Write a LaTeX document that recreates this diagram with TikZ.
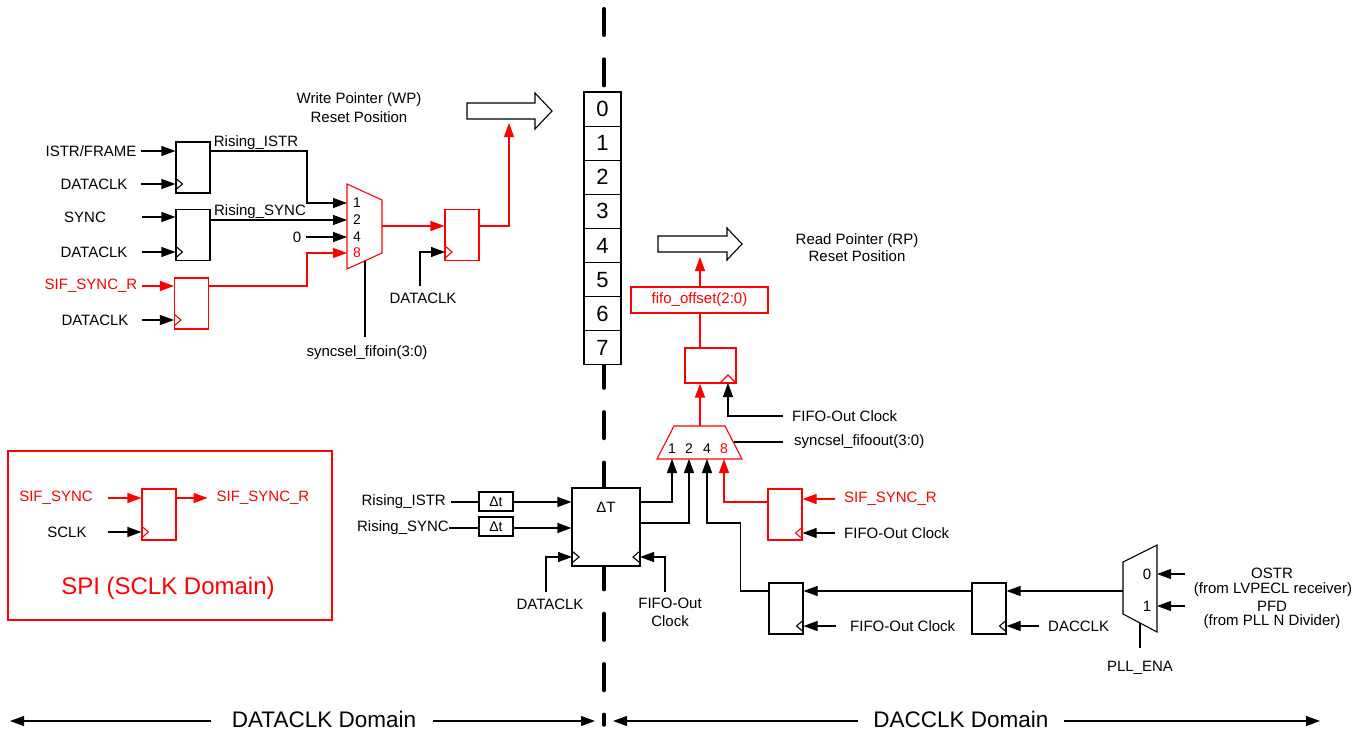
\documentclass[tikz,border=0pt]{standalone}
\usepackage{fontspec}
\setmainfont{Liberation Sans}
\usetikzlibrary{arrows.meta, positioning, calc}

\begin{document}
\begin{tikzpicture}[x=1pt, y=-1pt,
    every node/.style={font=\fontsize{15}{19}\selectfont, inner sep=0pt},
    wire/.style={line width=1.1pt},
    sig/.style={wire, -{Triangle[length=14pt,width=10pt]}},
    ffbox/.style={draw, line width=1.1pt, fill=white, minimum width=34pt, minimum height=51pt},
    dtbox/.style={draw, line width=1.1pt, fill=white, minimum width=34pt, minimum height=19pt, font=\fontsize{14}{16}\selectfont},
    cell/.style={draw, line width=1.1pt, fill=white, minimum width=37pt, minimum height=34.1pt, font=\fontsize{22}{24}\selectfont},
    pin/.style={font=\fontsize{14}{16}\selectfont},
    domaintext/.style={font=\fontsize{22.5}{26}\selectfont},
    hollow/.style={draw, line width=1.1pt, fill=white},
    clkleft/.pic={\draw[line width=1.1pt] (0,-6) -- (7,0) -- (0,6);},
    clkright/.pic={\draw[line width=1.1pt] (0,-6) -- (-7,0) -- (0,6);},
    clkup/.pic={\draw[line width=1.1pt] (-8,0) -- (0,-8) -- (8,0);}]

    \useasboundingbox (0,0) rectangle (1366,731);

    % border between the two clock domains
    \draw[line width=3.5pt, line cap=round, dash pattern=on 26.5pt off 23.9pt] (604,8.75) -- (604,725);

    % FIFO cells 0..7
    \foreach \i in {0,...,7}
        \node[cell] (c\i) at (602.5,{109.05+34.1*\i}) {\i};

    % write pointer arrow
    \draw[hollow] (467,103) -- (535,103) -- (535,93) -- (552,111) -- (535,129) -- (535,119) -- (467,119) -- cycle;
    \coordinate (wp-in) at (509,123);
    \node[align=center] (wptext) at (359,108) {Write Pointer (WP)\\Reset Position};

    % inputs, DATACLK side
    \node (istr) at (91,151) {ISTR/FRAME};
    \node (dclk1) at (94,184) {DATACLK};
    \node (sync) at (85,217) {SYNC};
    \node (dclk2) at (94,252) {DATACLK};
    \node[text=red] (sifr) at (91,286) {SIF\_SYNC\_R};
    \node (dclk3) at (95,320) {DATACLK};

    % input flip-flops
    \node[ffbox] (ff1) at (193,167.5) {};
    \node[ffbox] (ff2) at (193,235) {};
    \node[ffbox, draw=red] (ff3) at (191.5,303.5) {};
    \pic at (ff1.west |- dclk1) {clkleft};
    \pic at (ff2.west |- dclk2) {clkleft};
    \pic[red] at (ff3.west |- dclk3) {clkleft};
    \draw[sig] ($(ff1.west |- istr)-(34,0)$) -- (ff1.west |- istr);
    \draw[sig] ($(ff1.west |- dclk1)-(34,0)$) -- (ff1.west |- dclk1);
    \draw[sig] ($(ff2.west |- sync)-(33,0)$) -- (ff2.west |- sync);
    \draw[sig] ($(ff2.west |- dclk2)-(33,0)$) -- (ff2.west |- dclk2);
    \draw[sig, red] ($(ff3.west |- sifr)-(32,0)$) -- (ff3.west |- sifr);
    \draw[sig] ($(ff3.west |- dclk3)-(32,0)$) -- (ff3.west |- dclk3);

    % sync select mux (fifo in)
    \draw[wire, red, fill=white] (347,184) -- (382,200) -- (382,253) -- (347,269) -- cycle;
    \coordinate (m1a) at (347,203);
    \coordinate (m1b) at (347,220);
    \coordinate (m1c) at (347,237);
    \coordinate (m1d) at (347,253);
    \coordinate (m1out) at (382,226);
    \coordinate (m1sel) at (365,261);
    \node[pin] (m1l1) at (357,203) {1};
    \node[pin] (m1l2) at (357,220) {2};
    \node[pin] (m1l4) at (357,237) {4};
    \node[pin, text=red] (m1l8) at (357,253) {8};

    \draw[sig] (ff1.east |- istr) -| ($(m1a)-(40,0)$) -- (m1a);
    \node (risi) at (256,143) {Rising\_ISTR};
    \draw[sig] (ff2.east |- m1b) -- (m1b);
    \node (riss) at (260,212) {Rising\_SYNC};
    \node (zero) at (297,237) {0};
    \draw[sig] (zero.east) ++(5,0) -- (m1c);
    \draw[sig, red] (ff3.east |- sifr) -| ($(m1d)-(40,0)$) -- (m1d);
    \node (selin) at (367,353) {syncsel\_fifoin(3:0)};
    \draw[wire] (m1sel) -- ($(m1sel)+(0,76)$);

    % write pointer flip-flop
    \node[ffbox, draw=red] (ffwp) at (462,235) {};
    \coordinate (ffwp-ck) at (445,252);
    \pic[red] at (ffwp-ck) {clkleft};
    \draw[sig, red] (m1out) -- (ffwp.west |- m1out);
    \node (dclkw) at (423,298) {DATACLK};
    \draw[sig] ($(ffwp-ck)+(-25,34)$) |- (ffwp-ck);
    \draw[sig, red] (ffwp.east |- m1out) -| (wp-in);

    % SPI block
    \node[draw=red, line width=1.1pt, minimum width=324pt, minimum height=169pt] (spi) at (170,535.5) {};
    \node[ffbox, draw=red] (ffspi) at (159,514.5) {};
    \node[text=red] (sifs) at (56,498) {SIF\_SYNC};
    \node (sclk) at (67,532) {SCLK};
    \node[text=red] (sifo) at (263,498) {SIF\_SYNC\_R};
    \draw[sig, red] ($(ffspi.west |- sifs)-(33,0)$) -- (ffspi.west |- sifs);
    \draw[sig] ($(ffspi.west |- sclk)-(33,0)$) -- (ffspi.west |- sclk);
    \pic[red] at (ffspi.west |- sclk) {clkleft};
    \draw[sig, red] (ffspi.east |- sifs) -- ($(sifo.west)-(9,0)$);
    \node[text=red, font=\fontsize{24}{28}\selectfont] (spitext) at (168,588) {SPI (SCLK Domain)};

    % delta T crossing block
    \node[anchor=east] (risi2) at (446,502) {Rising\_ISTR};
    \node[anchor=east] (riss2) at (449,528) {Rising\_SYNC};
    \node[dtbox] (dt1) at (496,501.5) {Δt};
    \node[dtbox] (dt2) at (496,526.5) {Δt};
    \draw[wire] (risi2.east) ++(5,0) -- (dt1.west |- risi2);
    \draw[wire] (riss2.east) -- (dt2.west |- riss2);
    \node[ffbox, minimum width=68pt, minimum height=78pt] (dtT) at (606,527) {};
    \node (dtlabel) at (606,507) {ΔT};
    \draw[sig] (dt1.east |- risi2) -- (dtT.west |- risi2);
    \draw[sig] (dt2.east |- riss2) -- (dtT.west |- riss2);
    \coordinate (dt-ckl) at (572,557);
    \coordinate (dt-ckr) at (640,557);
    \pic at (dt-ckl) {clkleft};
    \pic at (dt-ckr) {clkright};
    \node (dclkd) at (550,604) {DATACLK};
    \draw[sig] ($(dt-ckl)+(-26,35)$) |- (dt-ckl);
    \node[align=center, font=\fontsize{15}{18}\selectfont] (foc1) at (670,612) {FIFO-Out\\Clock};
    \draw[sig] ($(dt-ckr)+(25,35)$) |- (dt-ckr);

    % sync select mux (fifo out)
    \draw[wire, red, fill=white] (657,459) -- (674,426) -- (725,426) -- (742,459) -- cycle;
    \coordinate (m2a) at (672,459);
    \coordinate (m2b) at (689,459);
    \coordinate (m2c) at (707,459);
    \coordinate (m2d) at (724,459);
    \coordinate (m2out) at (700,426);
    \coordinate (m2sel) at (733.5,442);
    \node[pin] (m2l1) at (672,449) {1};
    \node[pin] (m2l2) at (689,449) {2};
    \node[pin] (m2l4) at (707,449) {4};
    \node[pin, text=red] (m2l8) at (724,449) {8};
    \draw[sig] (dtT.east |- 0,502) -| (m2a);
    \draw[sig] (dtT.east |- 0,523) -| (m2b);
    \node[anchor=west] (selout) at (794,442) {syncsel\_fifoout(3:0)};
    \draw[wire] (m2sel) -- ($(selout.west)-(11,0)$);

    % read pointer path
    \node[ffbox, draw=red, minimum width=51pt, minimum height=35pt] (ffrp) at (710.5,365.5) {};
    \coordinate (ffrp-ck) at (728,383);
    \pic[red] at (ffrp-ck) {clkup};
    \node[draw=red, line width=1.1pt, fill=white, minimum width=137pt, minimum height=26pt, text=red] (fo) at (699.5,300) {fifo\_offset(2:0)};
    \draw[hollow] (658,236) -- (727,236) -- (727,228) -- (742,244) -- (727,260) -- (727,252) -- (658,252) -- cycle;
    \coordinate (rp-in) at (700,257);
    \node[align=center, font=\fontsize{15}{17}\selectfont] (rptext) at (857,248) {Read Pointer (RP)\\Reset Position};
    \draw[sig, red] (m2out) -- (ffrp.south -| m2out);
    \draw[wire, red] (ffrp.north -| m2out) -- (fo.south -| m2out);
    \draw[sig, red] (fo.north -| m2out) -- (rp-in);
    \node[anchor=west] (focr) at (792,416) {FIFO-Out Clock};
    \draw[sig] ($(focr.west)-(9,0)$) -| (ffrp-ck);

    % SIF_SYNC_R flip-flop, DACCLK side
    \node[ffbox, draw=red] (ff4) at (785,514.5) {};
    \node[text=red, anchor=west] (sifr2) at (844,499) {SIF\_SYNC\_R};
    \node[anchor=west] (foc2) at (844,533) {FIFO-Out Clock};
    \draw[sig, red] ($(sifr2.west)-(9,0)$) -- (ff4.east |- sifr2);
    \draw[sig] ($(foc2.west)-(9,0)$) -- (ff4.east |- foc2);
    \pic[red] at (ff4.east |- foc2) {clkright};
    \draw[sig, red] (ff4.west |- 0,502) -| (m2d);

    % OSTR / PFD synchronizer
    \node[ffbox] (ff5) at (786,608.5) {};
    \node[ffbox] (ff6) at (989,608.5) {};
    \coordinate (pllout) at (1123,591);
    \draw[sig] (pllout) -- (ff6.east |- pllout);
    \draw[sig] (ff6.west |- pllout) -- (ff5.east |- pllout);
    \draw[sig] (ff5.west |- pllout) -- ($(ff5.west |- pllout)-(28,0)$) |- ($(m2c)+(0,64)$) -- (m2c);
    \node[anchor=west] (foc3) at (850,626) {FIFO-Out Clock};
    \node[anchor=west] (dacclk) at (1048,626) {DACCLK};
    \draw[sig] ($(foc3.west)-(14,0)$) -- (ff5.east |- foc3);
    \draw[sig] ($(dacclk.west)-(9,0)$) -- (ff6.east |- dacclk);
    \pic at (ff5.east |- foc3) {clkright};
    \pic at (ff6.east |- dacclk) {clkright};

    % PLL select mux
    \draw[wire, fill=white] (1123,562) -- (1157,545) -- (1157,632) -- (1123,614) -- cycle;
    \coordinate (pll0) at (1157,574);
    \coordinate (pll1) at (1157,606);
    \coordinate (pllsel) at (1140,623);
    \node (pl0) at (1147,574) {0};
    \node (pl1) at (1147,606) {1};
    \draw[sig] ($(pll0)+(28,0)$) -- (pll0);
    \draw[sig] ($(pll1)+(28,0)$) -- (pll1);
    \node (ostr) at (1272,573) {OSTR};
    \node (ostrsrc) at (1273,590) {(from LVPECL receiver)};
    \node (pfd) at (1272,606) {PFD};
    \node (pfdsrc) at (1272,622) {(from PLL N Divider)};
    \node (pllena) at (1140,668) {PLL\_ENA};
    \draw[wire] (pllsel) -- ($(pllsel)+(0,25)$);

    % clock domain arrows
    \node[domaintext] (dleft) at (324,719) {DATACLK Domain};
    \node[domaintext] (dright) at (961,719) {DACCLK Domain};
    \coordinate (bl) at (10,721);
    \coordinate (bm1) at (595,721);
    \coordinate (bm2) at (613,721);
    \coordinate (br) at (1320,721);
    \draw[sig] ($(dleft.west |- bl)-(21,0)$) -- (bl);
    \draw[sig] ($(dleft.east |- bl)+(17,0)$) -- (bm1);
    \draw[sig] ($(dright.west |- br)-(15,0)$) -- (bm2);
    \draw[sig] ($(dright.east |- br)+(15,0)$) -- (br);
\end{tikzpicture}
\end{document}
